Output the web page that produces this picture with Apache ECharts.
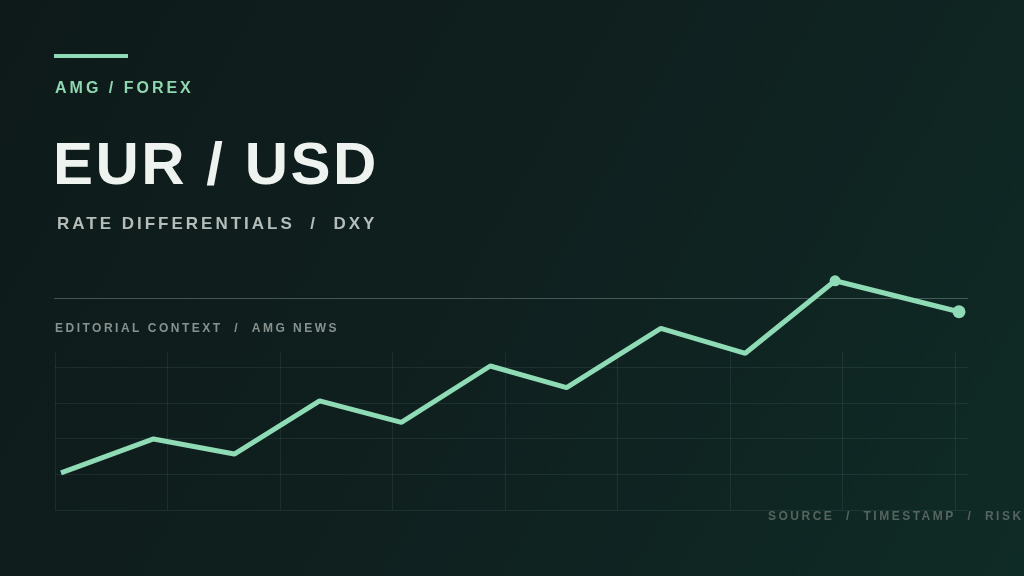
<!DOCTYPE html>
<html>
<head>
<meta charset="utf-8">
<style>
  html, body { margin: 0; padding: 0; background: #0f1b1b; }
  #chart { width: 1024px; height: 576px; }
</style>
<script src="https://cdn.jsdelivr.net/npm/echarts@6/dist/echarts.min.js"></script>
</head>
<body>
<div id="chart"></div>
<script>
// ---- data ----
const sessions = [0, 10.3, 19.3, 28.8, 37.9, 47.8, 56.3, 66.8, 76.2, 86.2, 100];
const values   = [15.5, 29.6, 23.3, 45.5, 36.5, 60.0, 51.0, 75.7, 65.3, 95.5, 82.6];
const markedPoints = [9, 10];
const kicker   = 'AMG / FOREX';
const title    = 'EUR / USD';
const subtitle = 'RATE DIFFERENTIALS  /  DXY';
const context  = 'EDITORIAL CONTEXT  /  AMG NEWS';
const footer   = 'SOURCE  /  TIMESTAMP  /  RISK';

// letter-spacing (tracking) by font size, applied when ECharts draws text
const TRACKING = { 60: 2.5, 17: 3, 16: 3, 12: 2.5 };
(function () {
  const proto = CanvasRenderingContext2D.prototype;
  const orig = proto.fillText;
  proto.fillText = function (t, x, y, w) {
    const m = /(\d+(?:\.\d+)?)px/.exec(this.font || '');
    const sz = m ? Math.round(parseFloat(m[1])) : 0;
    if (TRACKING[sz] !== undefined && 'letterSpacing' in this) {
      const prev = this.letterSpacing;
      this.letterSpacing = TRACKING[sz] + 'px';
      const r = w === undefined ? orig.call(this, t, x, y) : orig.call(this, t, x, y, w);
      this.letterSpacing = prev;
      return r;
    }
    return w === undefined ? orig.call(this, t, x, y) : orig.call(this, t, x, y, w);
  };
})();

const FONT = '"Liberation Sans", Arial, Helvetica, sans-serif';
const gridColor = 'rgba(140,185,170,0.11)';

const lineData = sessions.map((x, i) => {
  const item = { value: [x, values[i]] };
  if (markedPoints.indexOf(i) >= 0) {
    item.symbol = 'circle';
    item.symbolSize = i === sessions.length - 1 ? 13 : 11;
  }
  return item;
});

const chart = echarts.init(document.getElementById('chart'), null, { renderer: 'canvas' });
chart.setOption({
  backgroundColor: {
    type: 'linear', x: 0, y: 0, x2: 1, y2: 1,
    colorStops: [
      { offset: 0, color: '#0e1a1a' },
      { offset: 0.5, color: '#0f201f' },
      { offset: 1, color: '#0f2b26' }
    ]
  },
  animation: false,
  grid: [
    { left: 55, width: 900, top: 352, height: 158 },   // vertical guides
    { left: 55, width: 913, top: 367, height: 143 },   // horizontal guides
    { left: 61, right: 65, top: 270, height: 240 }     // data
  ],
  xAxis: [
    { gridIndex: 0, type: 'value', min: 0, max: 8, interval: 1,
      axisLine: { show: false }, axisTick: { show: false }, axisLabel: { show: false },
      splitLine: { show: true, lineStyle: { color: gridColor, width: 1 } } },
    { gridIndex: 1, type: 'value', min: 0, max: 1, show: false, splitLine: { show: false } },
    { gridIndex: 2, type: 'value', min: 0, max: 100, show: false, splitLine: { show: false } }
  ],
  yAxis: [
    { gridIndex: 0, type: 'value', min: 0, max: 1, show: false, splitLine: { show: false } },
    { gridIndex: 1, type: 'value', min: 0, max: 4, interval: 1,
      axisLine: { show: false }, axisTick: { show: false }, axisLabel: { show: false },
      splitLine: { show: true, lineStyle: { color: gridColor, width: 1 } } },
    { gridIndex: 2, type: 'value', min: 0, max: 100, show: false, splitLine: { show: false } }
  ],
  series: [{
    type: 'line',
    xAxisIndex: 2, yAxisIndex: 2,
    data: lineData,
    symbol: 'none',
    showSymbol: true,
    z: 5,
    lineStyle: { color: '#8fdbb6', width: 5 },
    itemStyle: { color: '#8fdbb6' },
    emphasis: { disabled: true }
  }],
  graphic: [
    { type: 'rect', z: 1, shape: { x: 54, y: 54, width: 74, height: 4 }, style: { fill: '#8fdbb6' } },
    { type: 'line', z: 1, shape: { x1: 54, y1: 298.5, x2: 968, y2: 298.5 },
      style: { stroke: 'rgba(170,188,182,0.35)', lineWidth: 1 } },
    { type: 'text', z: 10, x: 55, y: 88.5,
      style: { text: kicker, font: 'bold 16px ' + FONT, fill: '#8fd6b1', verticalAlign: 'middle', align: 'left' } },
    { type: 'text', z: 10, x: 53, y: 167.5,
      style: { text: title, font: 'bold 60px ' + FONT, fill: '#eef3ef', verticalAlign: 'middle', align: 'left' } },
    { type: 'text', z: 10, x: 57, y: 224,
      style: { text: subtitle, font: 'bold 17px ' + FONT, fill: '#b4bdb9', verticalAlign: 'middle', align: 'left' } },
    { type: 'text', z: 10, x: 55, y: 329,
      style: { text: context, font: 'bold 12px ' + FONT, fill: '#87928f', verticalAlign: 'middle', align: 'left' } },
    { type: 'text', z: 10, x: 768, y: 516.5,
      style: { text: footer, font: 'bold 12px ' + FONT, fill: '#56645f', verticalAlign: 'middle', align: 'left' } }
  ]
});
</script>
</body>
</html>
